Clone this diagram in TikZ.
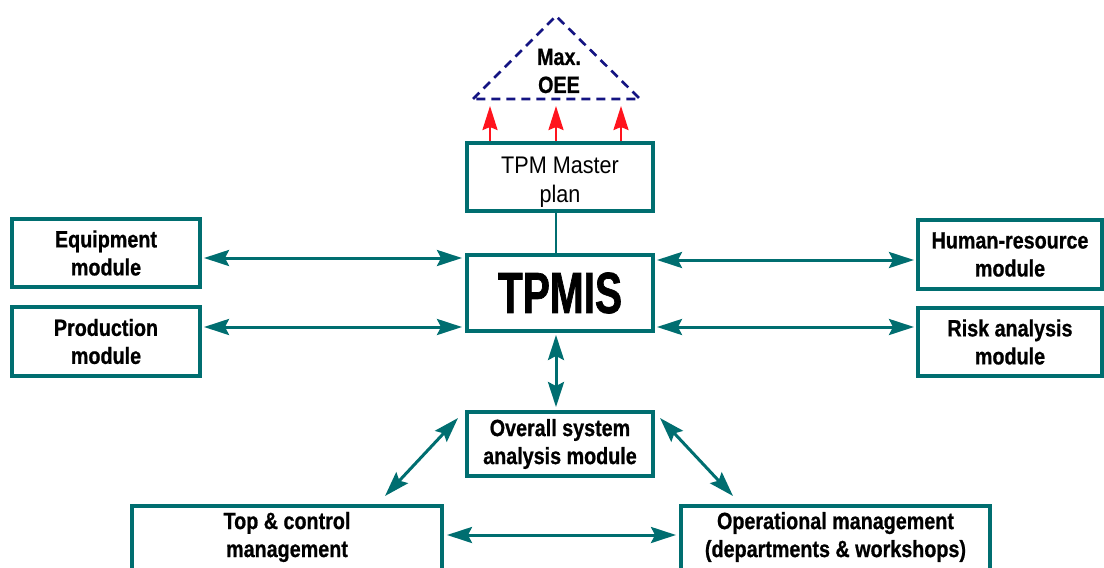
\documentclass[tikz,border=0pt]{standalone}
\usepackage{fontspec}
\setmainfont{Liberation Sans}[FakeStretch=0.84, BoldFeatures={FakeBold=0.8}]
\newfontfamily\regfont{Liberation Sans}[FakeStretch=0.90]
\newfontfamily\bigfont{Liberation Sans Bold}[FakeStretch=0.70,FakeBold=1.2]
\usetikzlibrary{arrows.meta}
\definecolor{tealc}{RGB}{0,110,112}
\definecolor{redc}{RGB}{255,20,30}
\definecolor{navyc}{RGB}{20,20,130}
\tikzset{
  box/.style={draw=tealc, line width=4pt, fill=white, inner sep=0pt},
  modtext/.style={align=center, font=\fontsize{23.5}{28}\selectfont\bfseries},
  biarrow/.style={draw=tealc, line width=3pt, {Stealth[length=25pt,width=16pt,inset=4pt]}-{Stealth[length=25pt,width=16pt,inset=4pt]}},
  redarrow/.style={draw=redc, line width=2.5pt, -{Stealth[length=24pt,width=15pt,inset=3pt]}},
}
\begin{document}
\begin{tikzpicture}[x=1pt,y=-1pt]
\useasboundingbox (0,0) rectangle (1104,568);
\clip (0,0) rectangle (1104,568);
% boxes
\node[box, minimum width=188pt, minimum height=68pt, modtext] (eq) at (106,253) {Equipment\\module};
\node[box, minimum width=188pt, minimum height=69pt, modtext] (prod) at (106,341.5) {Production\\module};
\node[box, minimum width=184pt, minimum height=69pt, modtext] (hr) at (1010,254.5) {Human-resource\\module};
\node[box, minimum width=184pt, minimum height=68pt, modtext] (risk) at (1010,342) {Risk analysis\\module};
\node[box, minimum width=186pt, minimum height=68pt] (tpm) at (560,177) {};
\node[align=center, font=\regfont\fontsize{24}{29}\selectfont] (tpmtext) at (560,182) {TPM Master\\plan};
\node[box, minimum width=186pt, minimum height=76pt, font=\bigfont\fontsize{58}{60}\selectfont] (tpmis) at (560,293) {TPMIS};
\node[box, minimum width=186pt, minimum height=64pt, modtext] (overall) at (560,444) {Overall system\\analysis module};
\node[box, minimum width=310pt, minimum height=116pt, anchor=north] (top) at (287,504) {};
\node[modtext] (toptext) at (287,537) {Top \& control\\management};
\node[box, minimum width=309pt, minimum height=116pt, anchor=north] (oper) at (835.5,504) {};
\node[modtext] (opertext) at (835.5,537) {Operational management\\(departments \& workshops)};
% triangle
\coordinate (apex) at (556,16);
\coordinate (bl) at (473,99);
\coordinate (br) at (640,99);
\draw[navyc, line width=2.6pt, dash pattern=on 9pt off 6pt] (bl) -- (apex) -- (br) -- cycle;
\node[modtext] (oee) at (559,71) {Max.\\OEE};
% red arrows
\coordinate (t1) at (490,106);
\coordinate (t2) at (556,106);
\coordinate (t3) at (621,106);
\draw[redarrow] (tpm.north -| t1) -- (t1);
\draw[redarrow] (tpm.north -| t2) -- (t2);
\draw[redarrow] (tpm.north -| t3) -- (t3);
% connectors
\coordinate (vx) at (556,0);
\draw[tealc, line width=2.5pt] (tpm.south -| vx) -- (tpmis.north -| vx);
\draw[biarrow, shorten <=2pt, shorten >=3pt] (tpmis.south -| vx) -- (overall.north -| vx);
\coordinate (ya) at (0,258);
\coordinate (yb) at (0,327);
\coordinate (yc) at (0,260);
\draw[biarrow, shorten <=2pt, shorten >=3pt] (eq.east |- ya) -- (tpmis.west |- ya);
\draw[biarrow, shorten <=2pt, shorten >=3pt] (prod.east |- yb) -- (tpmis.west |- yb);
\draw[biarrow, shorten <=2pt, shorten >=2pt] (tpmis.east |- yc) -- (hr.west |- yc);
\draw[biarrow, shorten <=2pt, shorten >=2pt] (tpmis.east |- yb) -- (risk.west |- yb);
\coordinate (dl1) at ([shift={(-7,8)}]overall.north west);
\coordinate (dl2) at (385,496);
\coordinate (dr1) at ([shift={(5,8)}]overall.north east);
\coordinate (dr2) at (733,496);
\draw[biarrow] (dl1) -- (dl2);
\draw[biarrow] (dr1) -- (dr2);
\coordinate (yd) at (0,535);
\draw[biarrow, shorten <=3pt, shorten >=3pt] (top.east |- yd) -- (oper.west |- yd);
\end{tikzpicture}
\end{document}
